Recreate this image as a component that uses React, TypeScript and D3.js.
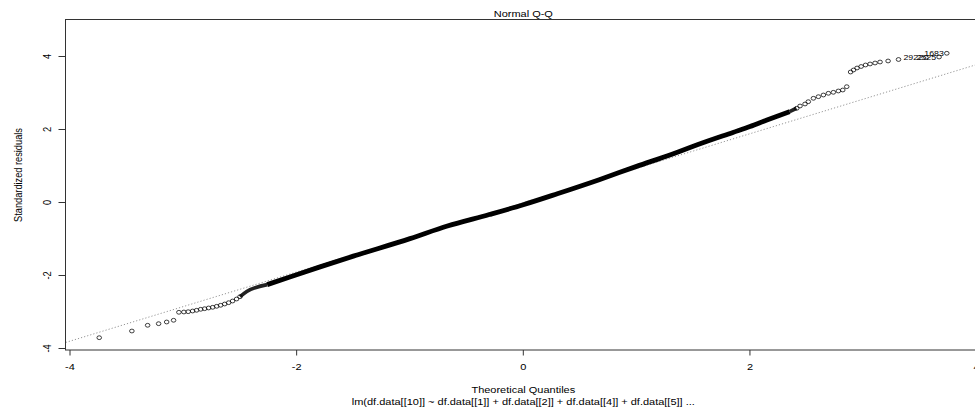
import React from "react";
import * as d3 from "d3";

// Axis ticks
const xTicks = [-4, -2, 0, 2, 4];
const yTicks = [-4, -2, 0, 2, 4];

// Lower tail points (theoretical, standardized residual)
const lowTailX = [-3.742, -3.454, -3.315, -3.218, -3.147, -3.086, -3.039, -2.995, -2.957, -2.918, -2.883, -2.847, -2.812, -2.777, -2.741, -2.706, -2.671, -2.635, -2.6, -2.565, -2.53, -2.5];
const lowTailY = [-3.704, -3.521, -3.364, -3.32, -3.274, -3.227, -3.008, -3.0, -2.992, -2.973, -2.953, -2.926, -2.91, -2.89, -2.871, -2.844, -2.816, -2.781, -2.745, -2.699, -2.644, -2.581];

// Dense body of the Q-Q cloud (read along its centre)
const bodyX = [-2.5, -2.44, -2.26, -2.06, -1.8, -1.5, -1.0, -0.67, -0.3, 0.0, 0.3, 0.67, 1.0, 1.3, 1.56, 1.85, 2.0, 2.15, 2.35, 2.41];
const bodyY = [-2.58, -2.44, -2.25, -2.04, -1.77, -1.47, -0.99, -0.645, -0.33, -0.06, 0.24, 0.625, 0.99, 1.31, 1.61, 1.92, 2.08, 2.26, 2.49, 2.58];

// Upper transition points
const upMidX = [2.413, 2.442, 2.486, 2.515, 2.56, 2.604, 2.648, 2.692, 2.736, 2.78, 2.819, 2.854];
const upMidY = [2.581, 2.644, 2.699, 2.762, 2.855, 2.899, 2.945, 2.992, 3.019, 3.055, 3.082, 3.173];

// Upper tail points
const upTailX = [2.888, 2.914, 2.945, 2.981, 3.02, 3.06, 3.104, 3.148, 3.219, 3.311];
const upTailY = [3.575, 3.63, 3.685, 3.726, 3.767, 3.795, 3.822, 3.849, 3.877, 3.918];

// Labelled extreme points
const idLabels = ["2922", "2525", "1683"];
const idX = [3.553, 3.669, 3.737];
const idY = [3.973, 3.986, 4.088];

// Reference line (qqline) intercept and slope
const lineIntercept = -0.01;
const lineSlope = 0.947;

const title = "Normal Q-Q";
const xLabel = "Theoretical Quantiles";
const yLabel = "Standardized residuals";
const subCaption = "lm(df.data[[10]] ~ df.data[[1]] + df.data[[2]] + df.data[[4]] + df.data[[5]] ...";

const W = 975;
const H = 412;
const FONT = "'Liberation Sans', Arial, Helvetica, sans-serif";
const SY = 0.84;

export default function App() {
  const x = d3.scaleLinear().domain([-4, 4]).range([70, 976.6]);
  const y = d3.scaleLinear().domain([-4, 4]).range([348.5, 56.5]);

  const box = { left: 65.5, top: 19.5, right: 1000, bottom: 350 };

  const pts = (xs: number[], ys: number[]) => xs.map((v, i) => [v, ys[i]] as [number, number]);
  const allCircles = [
    ...pts(lowTailX, lowTailY),
    ...pts(upMidX, upMidY),
    ...pts(upTailX, upTailY),
    ...pts(idX, idY),
  ];

  const lineGen = d3
    .line<[number, number]>()
    .x((d) => x(d[0]))
    .y((d) => y(d[1]))
    .curve(d3.curveMonotoneX);
  const body = pts(bodyX, bodyY);
  const bodyMain = lineGen(body.slice(2, body.length - 1)) || "";
  const bodyStart = lineGen(body.slice(0, 3)) || "";
  const bodyEnd = lineGen(body.slice(body.length - 2)) || "";

  const lx0 = -4.2;
  const lx1 = 4.5;

  const textAt = (tx: number, ty: number) => `translate(${tx},${ty}) scale(1,${SY})`;

  return (
    <svg width={W} height={H} style={{ position: "absolute", left: 0, top: 0, background: "#fff" }} fontFamily={FONT}>
      <defs>
        <clipPath id="plotClip">
          <rect x={box.left} y={box.top} width={box.right - box.left} height={box.bottom - box.top} />
        </clipPath>
      </defs>
      <rect x={0} y={0} width={W} height={H} fill="#fff" />

      <g clipPath="url(#plotClip)">
        {/* reference line */}
        <line
          x1={x(lx0)}
          y1={y(lineIntercept + lineSlope * lx0)}
          x2={x(lx1)}
          y2={y(lineIntercept + lineSlope * lx1)}
          stroke="#8a8a8a"
          strokeWidth={0.9}
          strokeDasharray="1.2 2"
        />
        {/* dense body */}
        <path d={bodyStart} fill="none" stroke="#222" strokeWidth={3.6} strokeLinecap="butt" strokeLinejoin="round" />
        <path d={bodyEnd} fill="none" stroke="#222" strokeWidth={3.8} strokeLinecap="butt" strokeLinejoin="round" />
        <path d={bodyMain} fill="none" stroke="#000" strokeWidth={4.8} strokeLinecap="butt" strokeLinejoin="round" />
        {allCircles.map((d, i) => (
          <ellipse key={i} cx={x(d[0])} cy={y(d[1])} rx={2.3} ry={1.9} fill="none" stroke="#000" strokeWidth={0.75} />
        ))}
      </g>

      {/* id labels */}
      {idLabels.map((lab, i) => (
        <text
          key={lab}
          transform={textAt(x(idX[i]) - 3, y(idY[i]))}
          textAnchor="end"
          dy="0.35em"
          fontSize={8.8}
          fill="#000"
        >
          {lab}
        </text>
      ))}

      {/* box */}
      <rect
        x={box.left}
        y={box.top}
        width={box.right - box.left}
        height={box.bottom - box.top}
        fill="none"
        stroke="#333"
        strokeWidth={1}
      />

      {/* x axis ticks */}
      {xTicks.map((t) => (
        <g key={"xt" + t}>
          <line x1={x(t)} x2={x(t)} y1={box.bottom} y2={box.bottom + 5.5} stroke="#333" strokeWidth={1} />
          <text transform={textAt(x(t), 370)} textAnchor="middle" fontSize={11} fill="#000">
            {t}
          </text>
        </g>
      ))}

      {/* y axis ticks */}
      {yTicks.map((t) => (
        <g key={"yt" + t}>
          <line x1={box.left} x2={box.left - 7} y1={y(t)} y2={y(t)} stroke="#333" strokeWidth={1} />
          <text
            transform={`translate(47.5,${y(t)}) scale(1,${SY}) rotate(-90)`}
            textAnchor="middle"
            dy="0.35em"
            fontSize={11}
            fill="#000"
          >
            {t}
          </text>
        </g>
      ))}

      {/* titles */}
      <text transform={textAt(523.3, 16.5)} textAnchor="middle" fontSize={11} fill="#000">
        {title}
      </text>
      <text transform={textAt(523.3, 393)} textAnchor="middle" fontSize={11} fill="#000">
        {xLabel}
      </text>
      <text transform={textAt(523.3, 405)} textAnchor="middle" fontSize={11} fill="#000">
        {subCaption}
      </text>
      <text
        transform={`translate(18,175) scale(1,${SY}) rotate(-90)`}
        textAnchor="middle"
        dy="0.35em"
        fontSize={11}
        fill="#000"
      >
        {yLabel}
      </text>
    </svg>
  );
}
